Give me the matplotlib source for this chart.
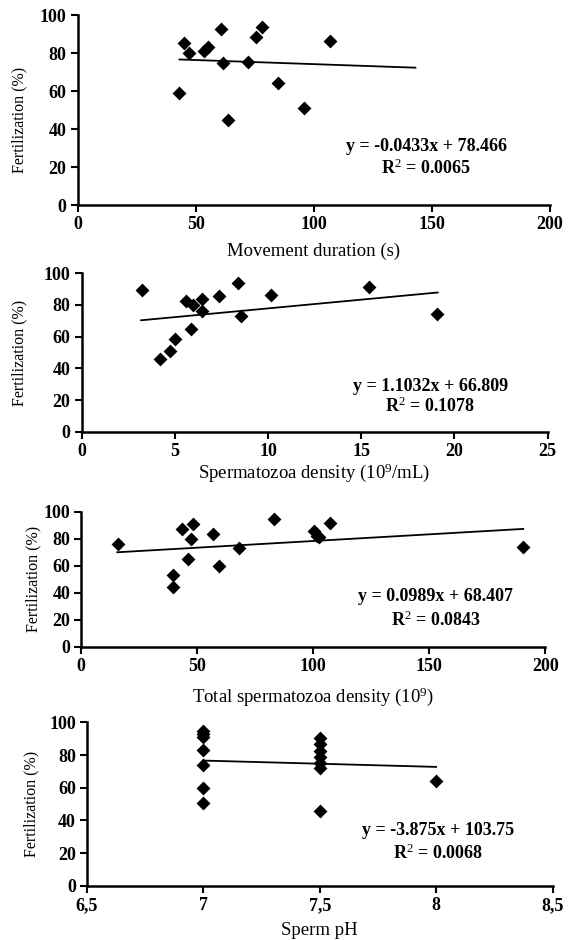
import matplotlib
matplotlib.use("Agg")
import matplotlib.pyplot as plt
import numpy as np

# ---------------- data ----------------
dur_x = [43.1, 45.1, 47.1, 53.5, 55.3, 60.5, 61.4, 63.6, 72.2, 75.6, 78.1, 84.9, 95.8, 107.0]
dur_y = [58.7, 85.4, 79.8, 81.2, 83.3, 92.4, 74.5, 44.6, 75.4, 88.6, 93.5, 64.0, 51.3, 86.5]
dur_fit = (-0.0433, 78.466)
dur_fit_range = (43.1, 143.0)

den_x = [3.26, 4.20, 4.77, 5.04, 5.61, 5.86, 5.96, 6.45, 6.45, 7.37, 8.40, 8.56, 10.16, 15.42, 19.08]
den_y = [89.4, 45.7, 51.0, 58.8, 82.2, 64.7, 79.9, 83.5, 76.1, 85.6, 93.7, 72.9, 86.3, 91.5, 74.6]
den_fit = (1.1032, 66.809)
den_fit_range = (3.2, 19.1)

tot_x = [15.7, 39.6, 39.6, 43.4, 46.1, 47.1, 48.3, 56.9, 59.3, 67.9, 83.1, 100.2, 101.6, 102.5, 107.3, 190.5]
tot_y = [76.1, 53.1, 44.0, 87.0, 64.7, 79.6, 90.9, 83.5, 60.0, 72.9, 94.6, 85.5, 81.8, 80.9, 91.5, 74.1]
tot_fit = (0.0989, 68.407)
tot_fit_range = (15.5, 190.5)

ph_x = [7, 7, 7, 7, 7, 7, 7, 7.5, 7.5, 7.5, 7.5, 7.5, 7.5, 7.5, 8]
ph_y = [94.9, 92.8, 90.9, 83.1, 73.9, 59.6, 50.8, 90.2, 86.6, 82.7, 79.0, 75.3, 71.9, 45.9, 64.3]
ph_fit = (-3.875, 103.75)
ph_fit_range = (7.0, 8.0)

y_ticks = [0, 20, 40, 60, 80, 100]
dur_ticks = [0, 50, 100, 150, 200]
den_ticks = [0, 5, 10, 15, 20, 25]
tot_ticks = [0, 50, 100, 150, 200]
ph_ticks = [6.5, 7, 7.5, 8, 8.5]
ph_ticklabels = ["6,5", "7", "7,5", "8", "8,5"]

ylabel = "Fertilization (%)"
xlabels = ["Movement duration (s)",
           "Spermatozoa density (10$^{9}$/mL)",
           "Total spermatozoa density (10$^{9}$)",
           "Sperm pH"]
eqs = ["y = -0.0433x + 78.466", "y = 1.1032x + 66.809",
       "y = 0.0989x + 68.407", "y = -3.875x + 103.75"]
r2s = ["R$^{2}$ = 0.0065", "R$^{2}$ = 0.1078", "R$^{2}$ = 0.0843", "R$^{2}$ = 0.0068"]

# ---------------- style ----------------
plt.rcParams['font.family'] = ['Liberation Serif', 'DejaVu Serif']
plt.rcParams['mathtext.fontset'] = 'custom'
plt.rcParams['mathtext.rm'] = 'Liberation Serif'
plt.rcParams['mathtext.it'] = 'Liberation Serif:italic'
plt.rcParams['mathtext.bf'] = 'Liberation Serif:bold'

W, H = 574, 940
fig = plt.figure(figsize=(W / 100, H / 100), dpi=100)

# pixel boxes: left, right, top, bottom
boxes = [(77.7, 550.0, 15.0, 205.0),
         (81.5, 547.7, 273.3, 431.7),
         (81.3, 545.3, 511.7, 646.7),
         (86.9, 552.5, 722.4, 885.7)]
xlab_y = [-0.20, -0.185, -0.29, -0.22]
ylab_x = [-0.107, -0.117, -0.085, -0.101]
ylab_y = [0.45, 0.5, 0.5, 0.5]
eq_pos = [(147.7, 30.6, 19.2), (18.7, 28.4, 15.8), (152.7, 37.0, 19.8), (8.01, 34.1, 19.8)]

panels = [(dur_x, dur_y, dur_fit, dur_fit_range, dur_ticks, None),
          (den_x, den_y, den_fit, den_fit_range, den_ticks, None),
          (tot_x, tot_y, tot_fit, tot_fit_range, tot_ticks, None),
          (ph_x, ph_y, ph_fit, ph_fit_range, ph_ticks, ph_ticklabels)]

for i, (xs, ys, fit, fr, xt, xtl) in enumerate(panels):
    l, r, t, b = boxes[i]
    ax = fig.add_axes([l / W, 1 - b / H, (r - l) / W, (b - t) / H])
    ax.scatter(xs, ys, marker='D', s=50, color='black', zorder=3, clip_on=False, linewidths=0)
    lx = np.array(fr)
    ax.plot(lx, fit[0] * lx + fit[1], color='black', lw=1.3, zorder=2)
    ax.set_xlim(xt[0], xt[-1])
    ax.set_ylim(0, 100)
    ax.set_xticks(xt)
    if xtl is not None:
        ax.set_xticklabels(xtl)
    ax.set_yticks(y_ticks)
    for s in ['top', 'right']:
        ax.spines[s].set_visible(False)
    for s in ['left', 'bottom']:
        ax.spines[s].set_linewidth(1.8)
    ax.tick_params(direction='out', length=5, width=1.5, pad=3, labelsize=13)
    for lab in ax.get_xticklabels() + ax.get_yticklabels():
        lab.set_fontweight('bold')
    ax.set_xlabel(xlabels[i], fontsize=13.5)
    ax.set_ylabel(ylabel, fontsize=11.5)
    ax.xaxis.set_label_coords(0.5, xlab_y[i])
    ax.yaxis.set_label_coords(ylab_x[i], ylab_y[i])
    ex, ey, ry = eq_pos[i]
    ax.text(ex, ey, eqs[i], ha='center', va='center', fontsize=13, fontweight='bold')
    ax.text(ex, ry, r2s[i], ha='center', va='center', fontsize=13, fontweight='bold')

fig.savefig("out.png", dpi=100)
